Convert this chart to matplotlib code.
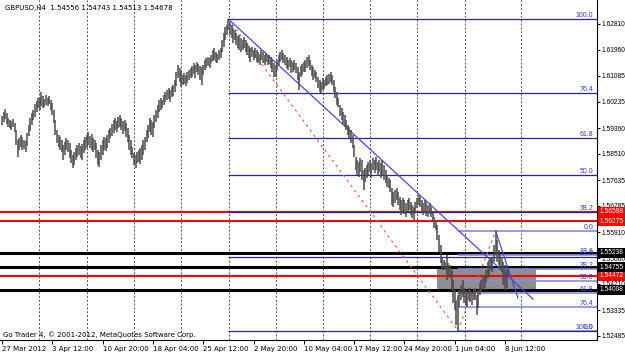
import matplotlib
matplotlib.use("Agg")
import matplotlib.pyplot as plt
import matplotlib.transforms as mtransforms
from matplotlib.patches import Rectangle

# GBPUSD H4 bars (high / low per bar)
highs = [
    1.5976, 1.5989, 1.5999, 1.5986, 1.5969, 1.5963, 1.5959, 1.5966, 1.5953, 1.5930,
    1.5897, 1.5903, 1.5913, 1.5907, 1.5897, 1.5893, 1.5920, 1.5946, 1.5969, 1.5986,
    1.5996, 1.6016, 1.6026, 1.6036, 1.6039, 1.6055, 1.6042, 1.6032, 1.6046, 1.6036,
    1.6042, 1.6029, 1.6019, 1.5996, 1.5963, 1.5930, 1.5913, 1.5907, 1.5897, 1.5880,
    1.5890, 1.5903, 1.5897, 1.5887, 1.5864, 1.5847, 1.5857, 1.5870, 1.5880, 1.5887,
    1.5877, 1.5883, 1.5897, 1.5907, 1.5913, 1.5923, 1.5910, 1.5916, 1.5903, 1.5897,
    1.5887, 1.5864, 1.5857, 1.5880, 1.5897, 1.5907, 1.5903, 1.5913, 1.5930, 1.5936,
    1.5950, 1.5963, 1.5969, 1.5959, 1.5973, 1.5979, 1.5969, 1.5959, 1.5963, 1.5953,
    1.5936, 1.5913, 1.5897, 1.5873, 1.5854, 1.5847, 1.5857, 1.5864, 1.5870, 1.5880,
    1.5897, 1.5907, 1.5930, 1.5946, 1.5969, 1.5963, 1.5956, 1.5979, 1.5996, 1.6012,
    1.6029, 1.6036, 1.6029, 1.6046, 1.6055, 1.6062, 1.6069, 1.6062, 1.6072, 1.6079,
    1.6095, 1.6122, 1.6145, 1.6135, 1.6122, 1.6112, 1.6118, 1.6112, 1.6122, 1.6128,
    1.6135, 1.6142, 1.6151, 1.6145, 1.6155, 1.6148, 1.6142, 1.6138, 1.6145, 1.6161,
    1.6168, 1.6171, 1.6168, 1.6178, 1.6195, 1.6201, 1.6188, 1.6181, 1.6195, 1.6201,
    1.6228, 1.6251, 1.6271, 1.6277, 1.6297, 1.6287, 1.6277, 1.6267, 1.6261, 1.6251,
    1.6241, 1.6244, 1.6234, 1.6228, 1.6238, 1.6228, 1.6218, 1.6208, 1.6201, 1.6204,
    1.6195, 1.6201, 1.6195, 1.6188, 1.6181, 1.6195, 1.6188, 1.6178, 1.6185, 1.6175,
    1.6178, 1.6171, 1.6161, 1.6151, 1.6145, 1.6161, 1.6178, 1.6188, 1.6195, 1.6185,
    1.6178, 1.6171, 1.6161, 1.6168, 1.6161, 1.6155, 1.6161, 1.6151, 1.6138, 1.6122,
    1.6142, 1.6148, 1.6155, 1.6161, 1.6171, 1.6178, 1.6161, 1.6145, 1.6138, 1.6128,
    1.6122, 1.6105, 1.6095, 1.6089, 1.6102, 1.6095, 1.6105, 1.6112, 1.6115, 1.6122,
    1.6112, 1.6095, 1.6072, 1.6055, 1.6036, 1.6012, 1.6003, 1.5989, 1.5979, 1.5963,
    1.5946, 1.5940, 1.5930, 1.5913, 1.5880, 1.5840, 1.5830, 1.5824, 1.5837, 1.5830,
    1.5797, 1.5804, 1.5814, 1.5824, 1.5830, 1.5820, 1.5837, 1.5830, 1.5840, 1.5824,
    1.5830, 1.5820, 1.5830, 1.5814, 1.5797, 1.5781, 1.5771, 1.5764, 1.5738, 1.5724,
    1.5731, 1.5738, 1.5724, 1.5708, 1.5698, 1.5705, 1.5698, 1.5688, 1.5698, 1.5705,
    1.5691, 1.5681, 1.5675, 1.5691, 1.5705, 1.5715, 1.5708, 1.5698, 1.5688, 1.5698,
    1.5691, 1.5681, 1.5688, 1.5675, 1.5658, 1.5642, 1.5632, 1.5615, 1.5582, 1.5549,
    1.5506, 1.5499, 1.5493, 1.5516, 1.5489, 1.5483, 1.5466, 1.5433, 1.5400, 1.5367,
    1.5384, 1.5400, 1.5417, 1.5433, 1.5407, 1.5400, 1.5393, 1.5407, 1.5400, 1.5393,
    1.5400, 1.5407, 1.5384, 1.5400, 1.5423, 1.5433, 1.5443, 1.5450, 1.5466, 1.5493,
    1.5499, 1.5509, 1.5506, 1.5549, 1.5595, 1.5566, 1.5533, 1.5516, 1.5506, 1.5493,
    1.5483, 1.5466, 1.54743,
]
lows = [
    1.5946, 1.5956, 1.5966, 1.5950, 1.5940, 1.5936, 1.5930, 1.5940, 1.5923, 1.5880,
    1.5840, 1.5864, 1.5873, 1.5864, 1.5867, 1.5857, 1.5877, 1.5910, 1.5926, 1.5946,
    1.5963, 1.5973, 1.5989, 1.6003, 1.5996, 1.6009, 1.6003, 1.6006, 1.6012, 1.6009,
    1.6016, 1.5996, 1.5979, 1.5953, 1.5913, 1.5887, 1.5873, 1.5864, 1.5857, 1.5830,
    1.5847, 1.5864, 1.5857, 1.5837, 1.5820, 1.5804, 1.5814, 1.5830, 1.5840, 1.5847,
    1.5837, 1.5830, 1.5854, 1.5864, 1.5870, 1.5880, 1.5870, 1.5864, 1.5857, 1.5864,
    1.5837, 1.5814, 1.5807, 1.5830, 1.5847, 1.5864, 1.5860, 1.5870, 1.5887, 1.5903,
    1.5910, 1.5920, 1.5930, 1.5923, 1.5936, 1.5940, 1.5930, 1.5916, 1.5926, 1.5907,
    1.5890, 1.5864, 1.5847, 1.5837, 1.5814, 1.5804, 1.5820, 1.5824, 1.5817, 1.5830,
    1.5847, 1.5864, 1.5890, 1.5903, 1.5923, 1.5913, 1.5907, 1.5936, 1.5956, 1.5969,
    1.5989, 1.5996, 1.6003, 1.6012, 1.6022, 1.6029, 1.6032, 1.6022, 1.6039, 1.6042,
    1.6055, 1.6075, 1.6102, 1.6089, 1.6072, 1.6079, 1.6082, 1.6075, 1.6085, 1.6095,
    1.6102, 1.6105, 1.6115, 1.6102, 1.6122, 1.6112, 1.6095, 1.6079, 1.6112, 1.6128,
    1.6135, 1.6142, 1.6135, 1.6151, 1.6158, 1.6161, 1.6155, 1.6151, 1.6161, 1.6168,
    1.6188, 1.6204, 1.6228, 1.6244, 1.6261, 1.6244, 1.6234, 1.6218, 1.6228, 1.6211,
    1.6201, 1.6195, 1.6188, 1.6195, 1.6201, 1.6188, 1.6178, 1.6168, 1.6155, 1.6171,
    1.6161, 1.6168, 1.6155, 1.6151, 1.6145, 1.6161, 1.6151, 1.6145, 1.6155, 1.6145,
    1.6148, 1.6135, 1.6122, 1.6105, 1.6105, 1.6128, 1.6145, 1.6155, 1.6161, 1.6151,
    1.6145, 1.6135, 1.6128, 1.6138, 1.6118, 1.6122, 1.6128, 1.6118, 1.6095, 1.6062,
    1.6105, 1.6112, 1.6122, 1.6122, 1.6135, 1.6142, 1.6128, 1.6108, 1.6095, 1.6102,
    1.6089, 1.6069, 1.6055, 1.6052, 1.6062, 1.6065, 1.6075, 1.6079, 1.6082, 1.6089,
    1.6079, 1.6055, 1.6036, 1.6012, 1.6006, 1.5976, 1.5963, 1.5950, 1.5940, 1.5930,
    1.5913, 1.5903, 1.5887, 1.5870, 1.5840, 1.5797, 1.5781, 1.5774, 1.5791, 1.5764,
    1.5731, 1.5758, 1.5771, 1.5781, 1.5791, 1.5771, 1.5797, 1.5787, 1.5797, 1.5777,
    1.5791, 1.5771, 1.5781, 1.5764, 1.5754, 1.5741, 1.5738, 1.5724, 1.5681, 1.5675,
    1.5688, 1.5698, 1.5681, 1.5665, 1.5648, 1.5658, 1.5652, 1.5642, 1.5658, 1.5665,
    1.5648, 1.5638, 1.5632, 1.5658, 1.5672, 1.5681, 1.5675, 1.5658, 1.5648, 1.5655,
    1.5645, 1.5642, 1.5652, 1.5642, 1.5625, 1.5605, 1.5599, 1.5566, 1.5526, 1.5489,
    1.5466, 1.5473, 1.5466, 1.5433, 1.5450, 1.5440, 1.5400, 1.5357, 1.5334, 1.5284,
    1.5266, 1.5344, 1.5367, 1.5377, 1.5357, 1.5350, 1.5344, 1.5367, 1.5360, 1.5350,
    1.5367, 1.5367, 1.5317, 1.5341, 1.5384, 1.5393, 1.5400, 1.5407, 1.5427, 1.5440,
    1.5450, 1.5466, 1.5460, 1.5493, 1.5516, 1.5493, 1.5483, 1.5466, 1.5460, 1.5417,
    1.5400, 1.5407, 1.54513,
]

date_labels = ["27 Mar 2012", "3 Apr 12:00", "10 Apr 20:00", "18 Apr 04:00",
               "25 Apr 12:00", "2 May 20:00", "10 May 04:00", "17 May 12:00",
               "24 May 20:00", "1 Jun 04:00", "8 Jun 12:00"]
date_bars = [0, 32, 64, 96, 128, 160, 192, 224, 256, 288, 320]
week_bars = [23.5, 54, 84, 114, 144.4, 174.3, 204.2, 234.1, 264, 294.5, 330]

price_ticks = [1.62810, 1.61960, 1.61085, 1.60235, 1.59360, 1.58510, 1.57635,
               1.56785, 1.55910, 1.55060, 1.54210, 1.53335, 1.52485]

red_levels = [1.56598, 1.56275, 1.54472]
black_levels = [1.55238, 1.54755, 1.54008]
fib_ratios = [0.0, 0.236, 0.382, 0.5, 0.618, 0.764, 1.0]

# objects drawn on the chart: (bar, price) anchor points
fibA = (144, 290)          # high bar -> low bar
fibB = (290, 314)          # low bar -> high bar
trend1 = [(144, 1.6297), (337.8, 1.5370)]
trend2 = [(314, 1.5595), (328.2, 1.5374)]
box = (277, 340, 1.54008, 1.54755)

W, H = 625, 353
fig = plt.figure(figsize=(W / 100, H / 100), dpi=100)
fig.patch.set_facecolor("white")
ax = fig.add_axes([0, 13 / H, 597 / W, 340 / H])
ax.set_xlim(-1.27, 378.5)
ax.set_ylim(1.52346, 1.63600)

FONT = "DejaVu Sans"
NUMFONT = ["Liberation Sans", "DejaVu Sans"]
FS = 5
NFS = 4.8

for b in week_bars:
    ax.axvline(b, color="#505050", lw=0.7, ls=(0, (2, 2)), zorder=1)

ax.add_patch(Rectangle((box[0], box[2]), box[1] - box[0], box[3] - box[2],
                       facecolor="#8e8e8e", edgecolor="none", zorder=1.5))

for p in red_levels:
    ax.axhline(p, color="#ff0000", lw=1.5, zorder=2)
for p in black_levels:
    ax.axhline(p, color="#000000", lw=2.2, zorder=2)

yblend = mtransforms.blended_transform_factory(ax.transAxes, ax.transData)

# Fibonacci A (high -> low)
hiA, loA = highs[fibA[0]], lows[fibA[1]]
for r in fib_ratios:
    lvl = loA + r * (hiA - loA)
    ax.hlines(lvl, fibA[0], 378.5, color="#26269a", lw=0.9, zorder=2.2)
    ax.text(0.994, lvl, "%.1f" % (r * 100), transform=yblend,
            ha="right", va="bottom", fontsize=FS, color="#3b3bc0", family=NUMFONT, zorder=6)
ax.plot([fibA[0], fibA[1]], [hiA, loA], color="#ff5a5a", lw=0.9, ls=(0, (2, 3)), zorder=3)

# Fibonacci B (low -> high)
loB, hiB = lows[fibB[0]], highs[fibB[1]]
for r in fib_ratios:
    lvl = hiB - r * (hiB - loB)
    ax.hlines(lvl, fibB[0], 378.5, color="#8a8ae0", lw=1.2, zorder=2.1)
    ax.text(0.994, lvl, "%.1f" % (r * 100), transform=yblend,
            ha="right", va="bottom", fontsize=FS, color="#3b3bc0", family=NUMFONT, zorder=6)
ax.plot([fibB[0], fibB[1]], [loB, hiB], color="#ff5a5a", lw=0.9, ls=(0, (2, 3)), zorder=3)

for tl in (trend1, trend2):
    ax.plot([tl[0][0], tl[1][0]], [tl[0][1], tl[1][1]], color="#4848e0", lw=0.9, zorder=3)

idx = list(range(len(highs)))
ax.vlines(idx, lows, highs, color="#4a4a4a", lw=1.1, zorder=4)

# axes styling
for s in ("top", "left"):
    ax.spines[s].set_visible(False)
ax.spines["right"].set_linewidth(0.8)
ax.spines["bottom"].set_linewidth(0.8)
ax.yaxis.tick_right()
ax.set_yticks(price_ticks)
ax.set_yticklabels(["%.5f" % p for p in price_ticks], family=NUMFONT, fontsize=NFS)
ax.tick_params(axis="y", length=2, pad=1, width=0.7)
ax.set_xticks(date_bars)
ax.set_xticklabels(date_labels, family=FONT, fontsize=FS, ha="left")
ax.tick_params(axis="x", length=3, pad=1, width=0.7)

# price tags for horizontal levels on the right scale
for levels, col in ((red_levels, "#ff0000"), (black_levels, "#000000")):
    for p in levels:
        ax.text(1.004, p, "%.5f" % p, transform=yblend, ha="left", va="center", fontsize=NFS,
                family=NUMFONT, color="white", clip_on=False, zorder=8,
                bbox=dict(boxstyle="square,pad=0.22", fc=col, ec="none"))

ax.text(5 / 597, 1 - 8 / 340, "GBPUSD,H4  1.54556 1.54743 1.54513 1.54678", transform=ax.transAxes,
        ha="left", va="center", fontsize=FS, family=FONT, color="black", zorder=9)
ax.text(3 / 597, 5 / 340, "Go Trader 4, \u00a9 2001-2012, MetaQuotes Software Corp.", transform=ax.transAxes,
        ha="left", va="center", fontsize=FS, family=FONT, color="black", zorder=9)

fig.savefig("out.png", dpi=100, facecolor="white")
